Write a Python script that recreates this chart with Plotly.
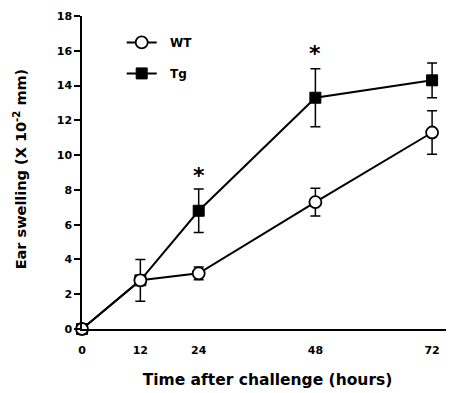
import plotly.graph_objects as go

hours = [0, 12, 24, 48, 72]
wt_mean = [0.0, 2.8, 3.2, 7.3, 11.3]
wt_err = [0.0, 0.0, 0.37, 0.8, 1.25]
tg_mean = [0.0, 2.8, 6.8, 13.3, 14.3]
tg_err = [0.0, 1.2, 1.25, 1.67, 1.0]
star_x = [24, 48]
star_y = [9.0, 16.0]
y_ticks = [0, 2, 4, 6, 8, 10, 12, 14, 16, 18]
x_ticks = [0, 12, 24, 48, 72]

font_family = "DejaVu Sans, Liberation Sans, Arial, sans-serif"

fig = go.Figure()
fig.add_trace(go.Scatter(
    x=hours, y=tg_mean, name="<b>&nbsp;&nbsp;Tg</b>", mode="lines+markers", legendrank=2,
    legendgroup="b",
    line=dict(color="black", width=2),
    marker=dict(symbol="square", size=11, color="black", line=dict(color="black", width=1)),
    error_y=dict(type="data", array=tg_err, color="black", thickness=1.5, width=5),
    cliponaxis=False,
))
fig.add_trace(go.Scatter(
    x=hours, y=wt_mean, name="<b>&nbsp;&nbsp;WT</b>", mode="lines+markers", legendrank=1,
    legendgroup="a",
    line=dict(color="black", width=2),
    marker=dict(symbol="circle", size=12, color="white", line=dict(color="black", width=1.8)),
    error_y=dict(type="data", array=wt_err, color="black", thickness=1.5, width=5),
    cliponaxis=False,
))

for sx, sy in zip(star_x, star_y):
    fig.add_annotation(x=sx, y=sy, text="<b>*</b>", showarrow=False,
                       font=dict(size=22, color="black", family=font_family),
                       yanchor="middle", xanchor="center", yshift=-3)

fig.add_annotation(x=-62/371, y=0.51, xref="paper", yref="paper",
                   xanchor="center", yanchor="middle",
                   text="<b>Ear swelling (X 10<sup>-2</sup> mm)</b>", textangle=-90,
                   showarrow=False, font=dict(size=14.5, color="black", family=font_family))

fig.update_layout(
    width=446, height=385,
    margin=dict(l=74, r=1, t=8, b=64),
    paper_bgcolor="white", plot_bgcolor="white",
    font=dict(family=font_family, color="black", size=12),
    showlegend=True,
    legend=dict(x=0.107, y=0.962, xanchor="left", yanchor="top",
                traceorder="grouped", tracegroupgap=12,
                font=dict(size=12, family=font_family), bgcolor="rgba(0,0,0,0)"),
    xaxis=dict(range=[0, 76.3], tickvals=x_ticks, ticktext=["<b>%d</b>" % v for v in x_ticks],
               showgrid=False, zeroline=False, showline=True, linecolor="black", linewidth=1.5,
               ticks="outside", ticklen=10, tickcolor="rgba(0,0,0,0)", tickwidth=1,
               tickfont=dict(size=11, family=font_family),
               title=dict(text="<b>Time after challenge (hours)</b>", font=dict(size=15.5, family=font_family), standoff=18)),
    yaxis=dict(range=[0, 18], tickvals=y_ticks, ticktext=["<b>%d</b>" % v for v in y_ticks],
               showgrid=False, zeroline=False, showline=True, linecolor="black", linewidth=1.5,
               ticks="outside", ticklen=6, tickcolor="black", tickwidth=1.5,
               tickfont=dict(size=11, family=font_family)),
)
fig.write_html("out.html")
